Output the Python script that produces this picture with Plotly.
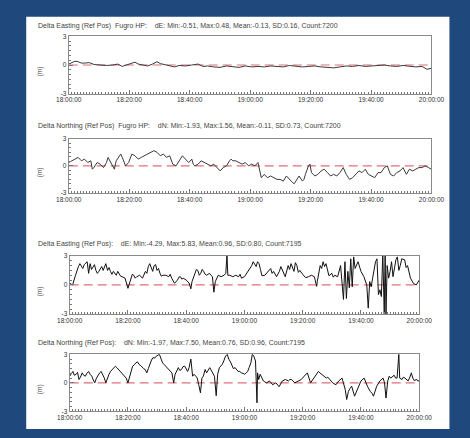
import pandas as pd
import plotly.graph_objects as go

# ---------------- data (minutes after 18:00, metres) ----------------
p1_min = [0, 1.0, 2.1, 3.1, 4.2, 5.2, 6.8, 8.4, 10.4, 12.5, 14.6, 16.2, 17.7, 19.3, 20.9, 21.9,
          23.0, 24.5, 26.1, 27.7, 29.2, 30.3, 31.8, 33.4, 35.0, 36.5, 38.6, 40.7, 42.8, 44.4,
          45.9, 48.0, 50.1, 52.2, 54.3, 56.3, 58.4, 60.5, 62.6, 64.7, 66.8, 68.9, 71.0, 73.0,
          75.1, 77.3, 79.3, 81.4, 83.5, 85.6, 87.6, 89.7, 91.8, 93.9, 96.0, 98.1, 100.2, 102.3,
          104.4, 106.4, 108.5, 110.6, 112.7, 114.8, 116.9, 118.5, 120]
p1_val = [0.1, 0.25, 0.4, 0.35, 0.2, 0.2, 0.25, 0.05, 0.0, -0.05, 0.0, 0.1, -0.15, 0.0, 0.15, 0.3,
          0.1, 0.0, -0.1, 0.1, 0.35, 0.15, 0.05, -0.05, -0.2, -0.05, -0.1, 0.0, 0.1, -0.15,
          -0.1, -0.2, -0.25, -0.1, -0.15, -0.25, -0.1, -0.2, -0.15, -0.2, -0.1, -0.15, -0.2, -0.05,
          -0.1, -0.2, -0.15, -0.1, -0.2, -0.25, -0.3, -0.2, -0.1, -0.15, -0.05, -0.15, -0.1, -0.05,
          0.0, -0.1, -0.15, -0.05, -0.1, -0.2, -0.15, -0.45, -0.35]

p2_min = [0.0, 1.0, 2.1, 3.1, 4.2, 5.2, 6.3, 7.3, 7.8, 8.3, 9.4, 10.4, 11.5, 12.5, 13.0, 13.6,
          14.6, 15.1, 15.7, 16.7, 17.2, 17.7, 18.8, 19.8, 20.9, 21.9, 23.0, 24.0, 25.0, 26.1,
          27.1, 28.2, 29.2, 30.3, 31.3, 32.3, 33.4, 34.4, 35.5, 36.5, 37.6, 38.6, 39.7, 40.7,
          41.2, 41.7, 42.8, 43.8, 44.9, 45.9, 47.0, 48.0, 49.0, 50.1, 51.1, 52.2, 53.2, 53.7,
          54.3, 55.3, 56.3, 57.4, 58.4, 59.5, 60.5, 61.6, 62.6, 63.7, 64.7, 65.7, 66.8, 67.8,
          68.9, 69.9, 71.0, 72.0, 73.0, 74.1, 74.6, 75.1, 76.2, 77.3, 77.8, 78.3, 79.3, 79.8,
          80.3, 81.4, 82.4, 83.5, 84.5, 85.6, 86.6, 87.6, 88.7, 89.7, 90.8, 91.8, 92.9, 93.9,
          95.0, 96.0, 97.0, 98.1, 99.1, 100.2, 101.2, 102.3, 103.3, 104.4, 105.4, 106.4, 107.5,
          108.5, 109.6, 110.6, 111.7, 112.7, 113.8, 114.8, 115.8, 116.9, 117.9, 119.0, 120.0]
p2_val = [0.37, 0.56, 0.75, 0.94, 0.56, 0.75, 0.37, 0.56, -0.37, -0.19, 0.37, 0.19, -0.19, 0.37, 0.94, 0.56,
          -0.19, -0.37, 0.56, 1.12, 1.31, 0.94, 0.0, 0.37, 1.31, 1.12, 0.75, 0.94, 1.12, 1.31,
          1.5, 1.69, 1.5, 1.12, 1.31, 0.94, 1.12, 0.19, 0.0, 0.56, 1.12, 0.75, 0.37, 0.75,
          0.19, 0.0, 0.19, 0.56, 0.37, 0.19, 0.0, 0.19, -0.19, -0.56, -0.19, 0.0, 0.56, 0.75,
          0.56, 0.56, 0.37, 0.19, 0.37, 0.0, 0.19, 0.0, 0.37, -1.31, -0.94, -1.31, -1.12, -1.31,
          -1.5, -1.5, -1.69, -1.12, -1.5, -1.87, -1.98, -1.69, -1.12, -1.69, -1.5, -0.94, 0.0, 0.19,
          -0.75, -1.12, -0.94, -0.56, -0.37, -0.75, -1.12, -0.94, -1.12, -0.75, -0.19, -0.94, -1.5, -1.31,
          -0.94, -0.56, -0.75, -0.37, -0.94, -1.12, -1.31, -0.75, -0.75, -0.19, 0.0, -0.94, -1.12,
          -0.75, -0.56, -0.19, -0.94, -0.37, -0.56, -0.37, -0.19, -0.19, 0.0, -0.19, -0.37]

p3_min = [0, 1, 2, 3, 4, 5, 6, 6.5, 7, 8, 9, 10, 11, 12, 12.4, 13, 14, 15, 16, 17, 18, 19, 20, 21,
          22, 23, 24, 25, 26, 27, 28, 29, 30, 31, 32, 33, 34, 35, 36, 37, 38, 39, 40, 41, 41.6, 42,
          43, 44, 45, 46, 47, 48, 49, 49.5, 50, 51, 52, 53, 53.6, 54, 54.3, 55, 56, 57, 58, 59, 60,
          61, 62, 63, 64, 65, 66, 67, 68, 69, 70, 71, 72, 73, 74, 75, 76, 77, 78, 79, 80, 81, 82,
          83, 84, 84.8, 85, 86, 87, 88, 89, 90, 91, 92, 93, 94, 94.5, 95, 95.5, 96, 96.5, 97, 97.5,
          98, 99, 100, 101, 102, 102.5, 103, 103.5, 104, 105, 105.5, 106, 106.5, 107, 107.5, 108,
          108.3, 108.6, 109, 109.5, 110, 110.5, 111, 111.5, 112, 112.5, 113, 113.5, 114, 115, 116,
          117, 118, 119, 120]
p3_val = [0.17, 0.0, 1.0, 1.9, 2.0, 2.1, 2.4, 1.2, 2.2, 1.9, 1.5, 1.4, 1.9, 2.0, 2.2, 1.5, 1.4, 1.4,
          1.0, 1.2, 0.85, 0.7, -0.35, 0.7, 1.0, 0.85, 1.0, 0.7, 1.4, 1.9, 1.7, 2.0, 1.5, 1.2, 1.0,
          1.0, 0.85, 0.7, 0.17, 0.5, 0.85, 0.7, 0.5, 0.2, -0.4, 0.35, 1.2, 1.5, 1.2, 1.4, 1.0, 1.2,
          0.85, -0.75, 0.35, 1.0, 0.85, 1.0, 1.2, 3.1, 1.0, 1.0, 0.85, 1.0, 0.85, 0.7, 0.85, 1.3,
          1.8, 2.4, 1.9, 2.2, 0.95, 1.0, 1.4, 1.7, 1.4, 0.85, 1.4, 1.5, 0.85, 2.0, 2.2, 1.4, 2.0,
          1.5, 1.1, 0.75, 0.85, 1.0, 0.85, -0.15, 0.35, 2.0, 2.4, 2.2, 0.95, 1.2, 1.0, 0.85, 2.0,
          -1.5, 2.4, -1.4, 1.4, -0.3, 2.7, -0.2, 2.9, 1.7, 2.4, 1.4, 0.85, 0.0, -2.4, 0.35, -0.2,
          0.7, 2.4, 2.7, -1.0, -0.5, -1.2, 3.2, -3.0, 3.2, -3.0, 2.0, 0.7, 1.4, 2.4, 0.85, 2.0, 2.6,
          2.9, 1.5, 2.0, 2.7, 2.6, 2.0, 0.7, 0.17, 0.0, 0.5]
# short-period wiggles read between the readings above
p3_detail_min = [2.5, 3.5, 4.5, 5.5, 7.5, 8.5, 9.5, 10.5, 11.5, 13.5, 14.5, 16.5, 17.5, 21.5, 22.5,
                 26.5, 27.5, 28.5, 29.5, 30.5, 31.5, 34.5, 37.5, 38.5, 43.5, 44.5, 45.5, 46.5, 48.5,
                 58.5, 62.5, 64.5, 65.5, 69.5, 72.5, 75.5, 77.5, 78.5, 86.5, 87.5, 90.5, 115.5]
p3_detail_val = [1.6, 2.2, 1.7, 2.3, 1.6, 2.1, 1.2, 1.7, 1.5, 1.8, 1.1, 1.4, 0.9, 1.1, 0.7,
                 1.2, 2.2, 1.4, 2.1, 1.7, 0.9, 1.1, 0.8, 0.6, 1.6, 1.0, 1.6, 1.1, 1.0,
                 1.1, 2.0, 2.4, 1.6, 1.2, 1.9, 1.6, 2.3, 1.3, 1.7, 1.9, 0.8, 1.8]

p4_min = [0, 1.1, 2.2, 3.2, 4.3, 5.4, 6.5, 7.6, 8.6, 9.2, 10.3, 11.4, 12.4, 13.5, 14.6, 15.7, 16.8,
          17.8, 18.9, 20.0, 20.5, 21.6, 22.7, 23.8, 24.9, 25.9, 26.5, 27.6, 28.6, 29.7, 30.8, 31.9,
          33.0, 34.1, 35.1, 35.7, 36.2, 37.3, 38.4, 39.5, 40.5, 41.6, 42.2, 42.7, 43.8, 44.3, 44.9,
          45.4, 45.9, 46.5, 47.0, 48.1, 49.2, 49.7, 50.3, 50.8, 51.4, 52.4, 53.5, 54.1, 54.6, 55.7,
          56.8, 57.8, 58.9, 60.0, 61.1, 62.2, 62.7, 63.2, 63.8, 64.3, 64.5, 64.9, 65.4, 66.5, 67.6,
          68.6, 69.7, 70.8, 71.9, 73.0, 74.1, 75.1, 76.2, 77.3, 78.4, 79.5, 80.5, 81.6, 82.7, 83.8,
          84.9, 85.9, 87.0, 88.1, 89.2, 90.3, 91.4, 92.4, 93.5, 94.6, 95.1, 95.7, 96.8, 97.8, 98.9,
          100.0, 101.1, 102.2, 103.2, 104.3, 105.4, 106.5, 107.6, 108.1, 108.6, 109.2, 109.7,
          110.8, 111.9, 112.4, 113.0, 113.3, 114.1, 115.1, 116.2, 117.3, 117.8, 118.4, 119.5, 120]
p4_val = [0.7, 1.2, 0.9, 0.35, 1.05, 0.7, 1.2, 0.7, 0.0, 0.5, 1.05, 0.9, 0.0, 0.9, 1.4, 1.75, 1.4,
          1.05, 0.7, 0.0, 0.5, 1.75, 2.1, 1.95, 1.6, 1.4, 1.05, 2.1, 2.65, 2.8, 3.0, 2.1,
          1.75, 1.4, 1.05, 0.0, 0.9, 1.6, 1.4, 1.75, 1.2, 2.5, 0.7, 0.9, 0.5, -0.2, -1.05,
          0.5, 0.7, 1.4, 1.05, 1.6, 1.05, 0.7, -1.35, 0.9, 1.6, 1.95, 2.8, 3.0, 2.5, 1.75,
          1.6, 1.2, 1.05, 0.9, 1.2, 2.1, 3.0, 2.8, 2.3, -2.1, 1.05, 0.35, 0.9, 0.2, 0.0,
          0.2, -0.2, 0.0, -0.4, 0.2, 0.35, 0.2, 0.35, 0.0, 0.2, 0.35, 0.7, 1.05, 0.0, 0.5,
          0.9, 1.05, 0.7, 0.5, 0.35, 0.0, -0.2, 0.2, 0.5, -0.7, -1.75, -0.9, -0.35, -1.4, -0.5,
          0.2, 0.5, -0.35, -0.9, -1.4, -0.35, 0.2, 0.5, 0.0, -1.6, 0.2, 0.7,
          0.7, 0.5, 0.5, 3.0, 0.5, 0.35, 0.5, 0.2, 1.05, 0.5, 0.2, 0.2, 0.2]
p4_detail_min = [0.5, 1.6, 2.7, 3.7, 4.8, 5.9, 7.0, 8.1, 9.7, 10.8, 11.9, 13.0, 14.0, 15.1, 16.2,
                 17.3, 18.4, 19.4, 21.0, 22.2, 23.3, 24.4, 25.4, 27.0, 28.1, 29.2, 30.2, 31.4,
                 32.5, 33.5, 34.6, 37.8, 38.9, 40.0, 41.0, 43.3, 48.6, 52.9, 55.2, 56.2, 57.3,
                 58.4, 59.5, 60.5, 61.6, 66.0, 67.0, 70.2, 72.5, 75.6, 78.0, 81.0, 84.3, 85.4,
                 86.5, 88.6, 96.2, 99.5, 101.6, 103.8, 110.2, 111.4, 114.6, 116.8, 119.0]
p4_detail_val = [1.0, 0.8, 1.1, 0.6, 0.8, 1.0, 0.9, 0.3, 0.8, 1.2, 0.5, 0.6, 1.2, 1.5, 1.6,
                 1.2, 0.9, 0.5, 1.2, 1.9, 2.2, 1.8, 1.5, 1.5, 2.4, 2.6, 2.9, 2.5,
                 1.9, 1.6, 1.2, 1.3, 1.7, 1.4, 1.6, 0.7, 1.3, 2.3, 2.2, 1.5, 1.4,
                 1.2, 1.0, 1.0, 1.6, 0.5, 0.1, -0.1, 0.0, 0.35, 0.1, 0.9, 0.7, 1.2,
                 0.9, 0.6, -0.6, -0.2, 0.1, -1.1, 0.5, 0.8, 0.6, 0.6, 0.4]

titles = [
    "Delta Easting (Ref Pos)  Fugro HP:    dE: Min:-0.51, Max:0.48, Mean:-0.13, SD:0.16, Count:7200",
    "Delta Northing (Ref Pos)  Fugro HP:    dN: Min:-1.93, Max:1.56, Mean:-0.11, SD:0.73, Count:7200",
    "Delta Easting (Ref Pos):    dE: Min:-4.29, Max:5.83, Mean:0.96, SD:0.80, Count:7195",
    "Delta Northing (Ref Pos):    dN: Min:-1.97, Max:7.50, Mean:0.76, SD:0.96, Count:7195",
]
y_ticks = [-3, 0, 3]
y_label = "(m)"
reference_level = 0.0


def merged(a_min, a_val, b_min=(), b_val=()):
    pairs = sorted(zip(list(a_min) + list(b_min), list(a_val) + list(b_val)))
    return [p[0] for p in pairs], [p[1] for p in pairs]


series = [
    merged(p1_min, p1_val),
    merged(p2_min, p2_val),
    merged(p3_min, p3_val, p3_detail_min, p3_detail_val),
    merged(p4_min, p4_val, p4_detail_min, p4_detail_val),
]

# ---------------- layout geometry (pixels) ----------------
W, H = 470, 438
panels = [  # left, right, top, bottom, title_y
    (59, 443, 33, 91, 22),
    (59, 443, 137, 192, 124),
    (60, 430, 256, 315, 244),
    (60, 430, 356, 414, 344),
]
line_colors = ["#3a3a3a", "#3a3a3a", "#111111", "#111111"]

base = pd.Timestamp("2000-01-01 18:00:00")
t_start = base
t_end = base + pd.Timedelta(minutes=120)

fig = go.Figure()
FONT = "Liberation Sans, Arial, sans-serif"

for i, ((l, r, t, b, ty), (mins, vals)) in enumerate(zip(panels, series)):
    n = i + 1
    xa = "x" if n == 1 else f"x{n}"
    ya = "y" if n == 1 else f"y{n}"
    times = base + pd.to_timedelta(mins, unit="min")
    # dashed zero reference line (drawn first so the data trace sits on top)
    fig.add_trace(go.Scatter(x=[t_start, t_end], y=[reference_level, reference_level],
                             mode="lines", line=dict(color="#e0707a", width=1.2, dash="9px,5px"),
                             xaxis=xa, yaxis=ya, showlegend=False, hoverinfo="skip"))
    fig.add_trace(go.Scatter(x=times, y=vals, mode="lines",
                             line=dict(color=line_colors[i], width=1),
                             xaxis=xa, yaxis=ya, showlegend=False, hoverinfo="skip"))
    xkey = "xaxis" if n == 1 else f"xaxis{n}"
    ykey = "yaxis" if n == 1 else f"yaxis{n}"
    fig.layout[xkey] = dict(
        domain=[l / W, r / W], anchor=ya, type="date",
        range=[t_start, t_end], tick0=t_start, dtick=20 * 60 * 1000,
        tickformat="%H:%M:%S", ticks="inside", ticklen=4, tickcolor="#777",
        showline=True, linecolor="#8a8a8a", linewidth=1, mirror=True,
        showgrid=False, zeroline=False,
        tickfont=dict(family=FONT, size=6.5, color="#333"),
        minor=dict(dtick=60 * 1000, ticks="inside", ticklen=2, tickcolor="#777"),
    )
    fig.layout[ykey] = dict(
        domain=[1 - b / H, 1 - t / H], anchor=xa,
        range=[-3, 3], tickvals=y_ticks, ticktext=[str(v) for v in y_ticks],
        ticks="inside", ticklen=4, tickcolor="#777",
        showline=True, linecolor="#8a8a8a", linewidth=1, mirror=True,
        showgrid=False, zeroline=False,
        tickfont=dict(family=FONT, size=6.5, color="#333"),
        minor=dict(dtick=0.5, ticks="inside", ticklen=2, tickcolor="#777"),
    )
    fig.add_annotation(x=24 / W, y=1 - ty / H, xref="paper", yref="paper",
                       text=titles[i], showarrow=False, xanchor="left", yanchor="middle",
                       font=dict(family=FONT, size=7, color="#444"))
    fig.add_annotation(x=28 / W, y=1 - ((t + b) / 2 + 6) / H, xref="paper", yref="paper",
                       text=y_label, showarrow=False, textangle=-90,
                       xanchor="center", yanchor="middle",
                       font=dict(family=FONT, size=6.5, color="#444"))

fig.add_shape(type="rect", xref="paper", yref="paper",
              x0=14 / W, x1=462 / W, y0=1 - 432 / H, y1=1 - 13 / H,
              fillcolor="white", line=dict(width=0), layer="below")

fig.update_layout(
    width=W, height=H, margin=dict(l=0, r=0, t=0, b=0),
    paper_bgcolor="#1f497d", plot_bgcolor="white",
    showlegend=False,
)

fig.write_html("out.html", config={"displayModeBar": False},
               post_script="document.body.style.margin='0';document.body.style.overflow='hidden';")
